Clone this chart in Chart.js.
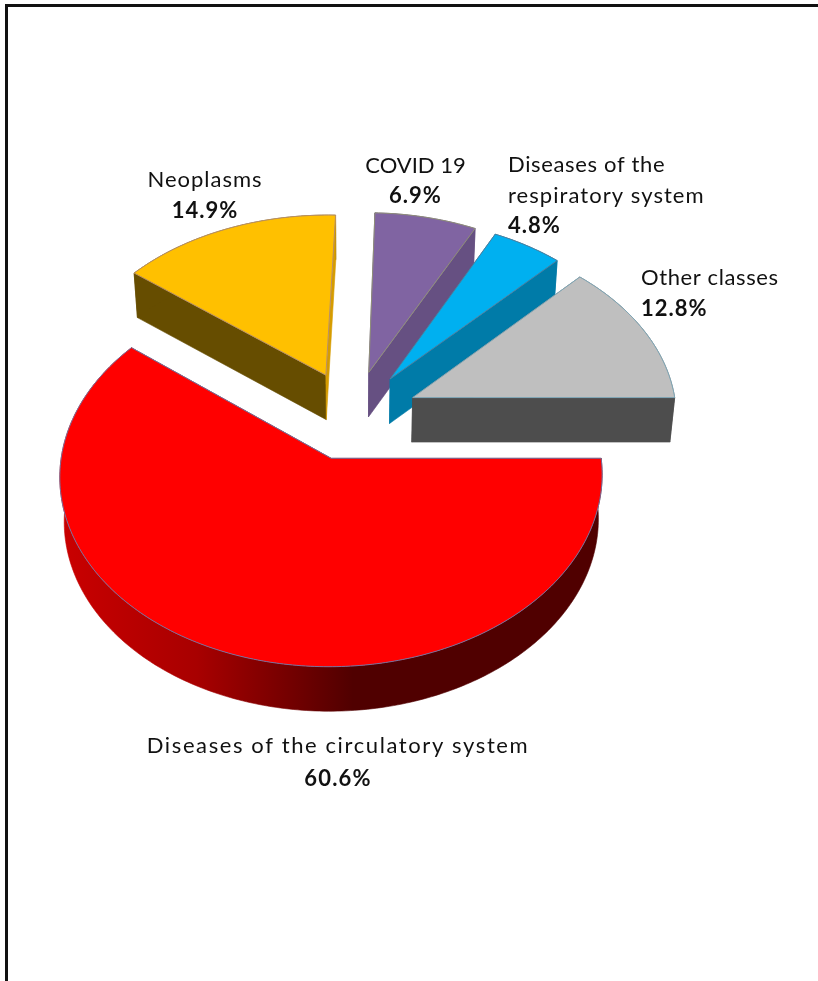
<!DOCTYPE html>
<html>
<head>
<meta charset="utf-8">
<style>
  html, body { margin: 0; padding: 0; background: #fff; width: 818px; height: 981px; overflow: hidden; }
  #frame { position: absolute; left: 5px; top: 4px; right: 0; bottom: -10px; border-top: 3px solid #111; border-left: 3px solid #111; }
  #chart { position: absolute; left: 0; top: 0; }
</style>
<script src="https://cdn.jsdelivr.net/npm/chart.js@4"></script>
</head>
<body>
<div id="frame"></div>
<canvas id="chart" width="818" height="981"></canvas>
<script>
const categories = [
  ['Diseases of the circulatory system'],
  ['Neoplasms'],
  ['COVID 19'],
  ['Diseases of the', 'respiratory system'],
  ['Other classes']
];
const values = [60.6, 14.9, 6.9, 4.8, 12.8];
const topColors = ['#ff0000', '#ffc000', '#8064a2', '#00b0f0', '#bfbfbf'];
const edgeColors = ['#7a6f9c', '#b98f66', '#8f8f78', '#4f7f9f', '#7fa8b8'];
const startWallColors = ['#560000', '#664d00', '#665082', '#007ba8', '#4d4d4d'];
const endWallColors = ['#560000', '#d69c00', '#665082', '#007ba8', '#4d4d4d'];
const paintOrder = [1, 2, 3, 4, 0];

/* View of the tilted pie */
const TILT = 0.686, PERSPECTIVE = 0.000341, DEPTH = 44.5, BOTTOM_SCALE = 0.985;
const EXPLODE = 65.4, RADIUS = 264.3;

/* Label placement: [x, first baseline, line height, align] */
const labelPlaces = [
  [338, 753, 33, 'center'],
  [205, 187, 31, 'center'],
  [415.5, 173, 30, 'center'],
  [508, 172, 30.5, 'left'],
  [641, 285, 31, 'left']
];
/* Letter spacing for each name line, then for the percentage */
const nameTracking = [[1.6], [1.0], [0], [0.65, 1.05], [0.6]];
const valueTracking = [1.2, 1, 1, 1, 1];
const labelFont = 'Lato, "Open Sans", sans-serif';
const labelSize = 22;

function project(arc, X, Y) {
  const w = 1 - PERSPECTIVE * Y;
  return [arc.x + X / w, arc.y + TILT * Y / w];
}
function lower(arc, p) {
  return [arc.x + (p[0] - arc.x) * BOTTOM_SCALE, p[1] + DEPTH];
}
function slicePoints(arc, offset) {
  const mid = (arc.startAngle + arc.endAngle) / 2;
  const ox = Math.cos(mid) * offset, oy = Math.sin(mid) * offset;
  const steps = Math.max(4, Math.ceil((arc.endAngle - arc.startAngle) / 0.015));
  const rim = [];
  for (let i = 0; i <= steps; i++) {
    const a = arc.startAngle + (arc.endAngle - arc.startAngle) * i / steps;
    rim.push(project(arc, ox + arc.outerRadius * Math.cos(a), oy + arc.outerRadius * Math.sin(a)));
  }
  return { apex: project(arc, ox, oy), rim };
}
function fillPoly(ctx, pts, fill) {
  ctx.beginPath();
  pts.forEach((p, i) => i ? ctx.lineTo(p[0], p[1]) : ctx.moveTo(p[0], p[1]));
  ctx.closePath();
  ctx.fillStyle = fill;
  ctx.strokeStyle = fill;
  ctx.lineWidth = 0.6;
  ctx.fill();
  ctx.stroke();
}

const pie3d = {
  id: 'pie3d',
  beforeDatasetDraw(chart, args) {
    const ctx = chart.ctx;
    const arcs = chart.getDatasetMeta(args.index).data;
    ctx.save();
    ctx.lineJoin = 'round';
    paintOrder.forEach(i => {
      const arc = arcs[i];
      const o = arc.options;
      const { apex, rim } = slicePoints(arc, o.offset);
      const first = rim[0], last = rim[rim.length - 1];
      const low = rim.map(p => lower(arc, p));
      const lowApex = lower(arc, apex);

      fillPoly(ctx, [apex, first, low[0], lowApex], startWallColors[i]);
      let sideFill = startWallColors[i];
      if (i === 0) {
        const g = ctx.createLinearGradient(arc.x - o.offset * 0.3 - arc.outerRadius, 0, arc.x, 0);
        g.addColorStop(0, '#c80000');
        g.addColorStop(0.45, '#a80000');
        g.addColorStop(0.8, '#700000');
        g.addColorStop(1, '#500000');
        sideFill = g;
      }
      fillPoly(ctx, rim.concat(low.slice().reverse()), sideFill);
      fillPoly(ctx, [apex, last, low[low.length - 1], lowApex], endWallColors[i]);

      ctx.beginPath();
      ctx.moveTo(apex[0], apex[1]);
      rim.forEach(p => ctx.lineTo(p[0], p[1]));
      ctx.closePath();
      ctx.fillStyle = o.backgroundColor;
      ctx.strokeStyle = o.borderColor;
      ctx.lineWidth = o.borderWidth;
      ctx.fill();
      ctx.stroke();
    });
    ctx.restore();
    return false;
  },
  afterDraw(chart) {
    const ctx = chart.ctx;
    ctx.save();
    ctx.fillStyle = '#111';
    ctx.textBaseline = 'alphabetic';
    categories.forEach((lines, i) => {
      const [x, y, lh, align] = labelPlaces[i];
      ctx.textAlign = align;
      ctx.font = '400 ' + labelSize + 'px ' + labelFont;
      lines.forEach((t, j) => {
        ctx.letterSpacing = nameTracking[i][j] + 'px';
        ctx.fillText(t, x, y + j * lh);
      });
      ctx.font = '700 ' + labelSize + 'px ' + labelFont;
      ctx.letterSpacing = valueTracking[i] + 'px';
      ctx.fillText(values[i].toFixed(1) + '%', x, y + lines.length * lh);
    });
    ctx.restore();
  }
};

new Chart(document.getElementById('chart'), {
  type: 'pie',
  data: {
    labels: categories.map(c => c.join(' ')),
    datasets: [{
      data: values,
      backgroundColor: topColors,
      borderColor: edgeColors,
      borderWidth: 1,
      offset: EXPLODE
    }]
  },
  options: {
    responsive: false,
    animation: false,
    rotation: 90,
    radius: RADIUS,
    layout: { padding: { left: 0, top: 0, right: 112, bottom: 151 } },
    plugins: { legend: { display: false }, tooltip: { enabled: false } }
  },
  plugins: [pie3d]
});
</script>
</body>
</html>
